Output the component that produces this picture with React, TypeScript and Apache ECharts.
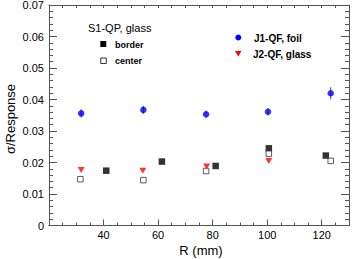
import React, { useEffect, useRef } from "react";
import * as echarts from "echarts";

// J1-QF, foil (blue circles, with error bars)
const j1X = [31.8, 54.6, 77.6, 100.3, 123.3];
const j1Y = [0.0356, 0.0367, 0.0353, 0.0361, 0.042];
const j1Err = [0.0013, 0.0013, 0.0012, 0.0012, 0.0019];

// J2-QF, glass (red down triangles)
const j2X = [31.8, 54.4, 77.8, 100.6];
const j2Y = [0.0176, 0.0174, 0.0187, 0.0205];

// S1-QP, glass — border (filled squares)
const borderX = [41.0, 61.4, 81.1, 100.6, 121.5];
const borderY = [0.0174, 0.0203, 0.0189, 0.0245, 0.0222];

// S1-QP, glass — center (open squares)
const centerX = [31.5, 54.6, 77.6, 100.6, 123.3];
const centerY = [0.0147, 0.0144, 0.0173, 0.0228, 0.0205];

const xTickLabels = ["40", "60", "80", "100", "120"];
const yTickLabels = ["0", "0.01", "0.02", "0.03", "0.04", "0.05", "0.06", "0.07"];

const FONT = "'Liberation Sans', Arial, Helvetica, sans-serif";
const AXIS_COLOR = "#555555";

const zip = (xs: number[], ys: number[]) => xs.map((x, i) => [x, ys[i]]);

export default function App() {
  const ref = useRef<HTMLDivElement>(null);

  useEffect(() => {
    if (!ref.current) return;
    const chart = echarts.init(ref.current, undefined, { renderer: "svg" });

    const xBase = {
      type: "value" as const,
      min: 20,
      max: 130,
      splitLine: { show: false },
      axisLine: { show: true, lineStyle: { color: AXIS_COLOR, width: 1 } },
    };
    const yBase = {
      type: "value" as const,
      min: 0,
      max: 0.07,
      interval: 0.01,
      splitLine: { show: false },
      axisLine: { show: true, lineStyle: { color: AXIS_COLOR, width: 1 } },
      minorTick: { show: true, splitNumber: 5, length: 4, lineStyle: { color: AXIS_COLOR } },
      minorSplitLine: { show: false },
    };

    const option: any = {
      animation: false,
      backgroundColor: "#ffffff",
      grid: {
        left: 49,
        right: 5,
        top: 5,
        bottom: 33.5,
        containLabel: false,
        outerBoundsMode: "none",
      },
      xAxis: [
        {
          ...xBase,
          position: "bottom",
          interval: 20,
          axisTick: { show: true, inside: true, length: 6, lineStyle: { color: AXIS_COLOR } },
          axisLabel: {
            show: true,
            margin: 4,
            fontSize: 11,
            fontFamily: FONT,
            color: "#000",
            formatter: (v: number) => {
              const s = String(Math.round(v));
              return xTickLabels.includes(s) ? s : "";
            },
          },
        },
        {
          ...xBase,
          position: "bottom",
          interval: 5,
          axisTick: { show: true, inside: true, length: 3, lineStyle: { color: AXIS_COLOR } },
          axisLabel: { show: false },
        },
        {
          ...xBase,
          position: "top",
          interval: 5,
          axisTick: { show: true, inside: true, length: 3, lineStyle: { color: AXIS_COLOR } },
          axisLabel: { show: false },
        },
      ],
      yAxis: [
        {
          ...yBase,
          position: "left",
          axisTick: { show: true, inside: true, length: 8, lineStyle: { color: AXIS_COLOR } },
          axisLabel: {
            show: true,
            margin: 5,
            fontSize: 11,
            fontFamily: FONT,
            color: "#000",
            formatter: (v: number) => {
              const idx = Math.round(v * 100);
              return yTickLabels[idx] ?? "";
            },
          },
        },
        {
          ...yBase,
          position: "right",
          axisTick: { show: true, inside: true, length: 8, lineStyle: { color: AXIS_COLOR } },
          axisLabel: { show: false },
        },
      ],
      graphic: [
        {
          type: "text",
          x: 201,
          y: 250,
          style: {
            text: "R (mm)",
            font: `13px ${FONT}`,
            fill: "#000",
            align: "center",
            verticalAlign: "middle",
          },
        },
        {
          type: "text",
          x: 10,
          y: 119,
          rotation: Math.PI / 2,
          style: {
            text: "σ/Response",
            font: `13px ${FONT}`,
            fill: "#000",
            align: "center",
            verticalAlign: "middle",
          },
        },
        {
          type: "text",
          x: 88,
          y: 27.5,
          style: {
            text: "S1-QP, glass",
            font: `11px ${FONT}`,
            fill: "#000",
            align: "left",
            verticalAlign: "middle",
          },
        },
        {
          type: "rect",
          shape: { x: 100.3, y: 41, width: 6, height: 6 },
          style: { fill: "#000" },
        },
        {
          type: "text",
          x: 115,
          y: 44.5,
          style: {
            text: "border",
            font: `bold 9px ${FONT}`,
            fill: "#000",
            align: "left",
            verticalAlign: "middle",
          },
        },
        {
          type: "rect",
          shape: { x: 100.8, y: 58, width: 5.5, height: 5.5 },
          style: { fill: "#fff", stroke: "#333", lineWidth: 1 },
        },
        {
          type: "text",
          x: 115,
          y: 61,
          style: {
            text: "center",
            font: `bold 9px ${FONT}`,
            fill: "#000",
            align: "left",
            verticalAlign: "middle",
          },
        },
        {
          type: "circle",
          shape: { cx: 238.3, cy: 37.5, r: 3 },
          style: { fill: "#0000ff" },
        },
        {
          type: "text",
          x: 254,
          y: 38,
          style: {
            text: "J1-QF, foil",
            font: `bold 10px ${FONT}`,
            fill: "#000",
            align: "left",
            verticalAlign: "middle",
          },
        },
        {
          type: "polygon",
          shape: { points: [[235, 51], [241.5, 51], [238.25, 56.5]] },
          style: { fill: "#ff0000" },
        },
        {
          type: "text",
          x: 253,
          y: 54,
          style: {
            text: "J2-QF, glass",
            font: `bold 10px ${FONT}`,
            fill: "#000",
            align: "left",
            verticalAlign: "middle",
          },
        },
      ],
      series: [
        {
          name: "J1 errors",
          type: "custom",
          xAxisIndex: 0,
          yAxisIndex: 0,
          z: 1,
          data: j1X.map((x, i) => [x, j1Y[i], j1Err[i]]),
          renderItem: (params: any, api: any) => {
            const x = api.value(0);
            const y = api.value(1);
            const e = api.value(2);
            const p1 = api.coord([x, y - e]);
            const p2 = api.coord([x, y + e]);
            return {
              type: "line",
              shape: { x1: p1[0], y1: p1[1], x2: p2[0], y2: p2[1] },
              style: { stroke: "#3344cc", lineWidth: 1 },
            };
          },
        },
        {
          name: "J1-QF, foil",
          type: "scatter",
          xAxisIndex: 0,
          yAxisIndex: 0,
          z: 3,
          symbol: "circle",
          symbolSize: 6.5,
          itemStyle: { color: "#0000ff" },
          data: zip(j1X, j1Y),
        },
        {
          name: "J2-QF, glass",
          type: "scatter",
          xAxisIndex: 0,
          yAxisIndex: 0,
          z: 3,
          symbol: "triangle",
          symbolRotate: 180,
          symbolSize: [7, 6],
          itemStyle: { color: "#ff0000" },
          data: zip(j2X, j2Y),
        },
        {
          name: "border",
          type: "scatter",
          xAxisIndex: 0,
          yAxisIndex: 0,
          z: 2,
          symbol: "rect",
          symbolSize: 6.5,
          itemStyle: { color: "#000000" },
          data: zip(borderX, borderY),
        },
        {
          name: "center",
          type: "scatter",
          xAxisIndex: 0,
          yAxisIndex: 0,
          z: 2,
          symbol: "rect",
          symbolSize: 5.5,
          itemStyle: { color: "#ffffff", borderColor: "#333333", borderWidth: 1 },
          data: zip(centerX, centerY),
        },
      ],
    };

    chart.setOption(option);
    return () => chart.dispose();
  }, []);

  return (
    <div
      ref={ref}
      style={{ width: 354, height: 259, position: "absolute", left: 0, top: 0, background: "#fff" }}
    />
  );
}
